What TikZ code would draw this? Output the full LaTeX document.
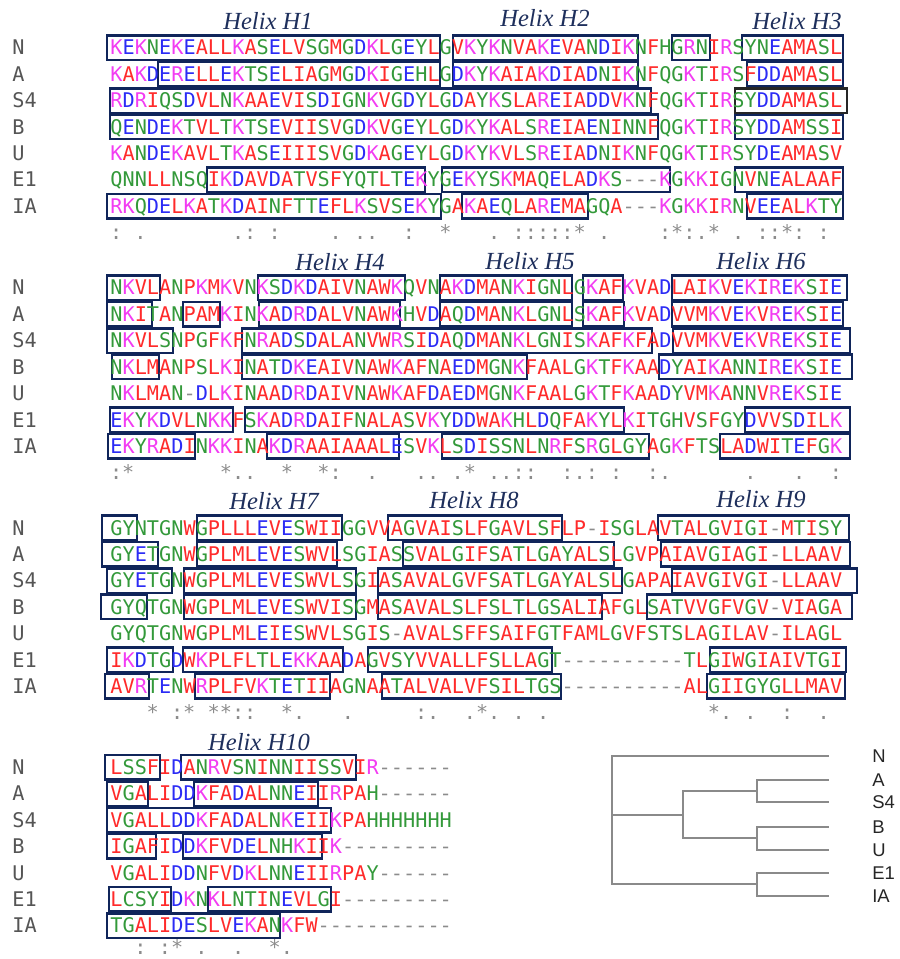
\documentclass[tikz,border=0pt]{standalone}
\usepackage{fontspec}
\usepackage{tikz}
\usepackage{xcolor}
\setmainfont{Liberation Serif}
\newfontfamily\seqfont{DejaVu Sans Mono}
\newfontfamily\treefont{Liberation Sans}
\definecolor{Res_Red}{HTML}{FF2A2A}
\definecolor{Res_Blue}{HTML}{2B2BF5}
\definecolor{Res_Magenta}{HTML}{F23CF2}
\definecolor{Res_Green}{HTML}{33993A}
\definecolor{Gap_Gray}{HTML}{8C8C8C}
\definecolor{Name_Gray}{HTML}{555555}
\definecolor{Box_Navy}{HTML}{10255A}
\definecolor{Label_Navy}{HTML}{1E2F5C}
\definecolor{Tree_Gray}{HTML}{8A8A8A}

% residue colours (small/hydrophobic, acidic, basic, polar)
\colorlet{resA}{Res_Red}\colorlet{resV}{Res_Red}\colorlet{resF}{Res_Red}\colorlet{resP}{Res_Red}
\colorlet{resM}{Res_Red}\colorlet{resI}{Res_Red}\colorlet{resL}{Res_Red}\colorlet{resW}{Res_Red}
\colorlet{resD}{Res_Blue}\colorlet{resE}{Res_Blue}
\colorlet{resR}{Res_Magenta}\colorlet{resK}{Res_Magenta}
\colorlet{resS}{Res_Green}\colorlet{resT}{Res_Green}\colorlet{resY}{Res_Green}\colorlet{resH}{Res_Green}
\colorlet{resC}{Res_Green}\colorlet{resN}{Res_Green}\colorlet{resG}{Res_Green}\colorlet{resQ}{Res_Green}

% one column of the alignment
\newlength\reswd
\setlength\reswd{0.244cm}
\newcommand\seqchar[1]{\makebox[\reswd]{\if-#1\textcolor{Gap_Gray}{-}\else\textcolor{res#1}{#1}\fi}}
\newcommand\seqline[1]{\seqlinei#1\relax}
\def\seqlinei#1{\ifx\relax#1\else\seqchar{#1}\expandafter\seqlinei\fi}

\begin{document}
\begin{tikzpicture}[x=0.02cm, y=-0.02cm,
    resline/.style={anchor=base west, inner sep=0pt, font={\seqfont\fontsize{11.5pt}{14pt}\selectfont}},
    seqname/.style={anchor=base west, inner sep=0pt, text=Name_Gray, font={\seqfont\fontsize{11.5pt}{14pt}\selectfont}},
    consmark/.style={anchor=base, inner sep=0pt, text=Gap_Gray, font={\seqfont\fontsize{11.5pt}{14pt}\selectfont}},
    hxbox/.style={draw=Box_Navy, line width=1.4pt},
    hxboxdark/.style={draw=black!85, line width=1.4pt},
    helixlbl/.style={inner sep=0pt, text=Label_Navy, font={\itshape\fontsize{14pt}{16pt}\selectfont}},
    treeline/.style={draw=Tree_Gray, line width=1.3pt},
    treelbl/.style={anchor=west, inner sep=0pt, text=black!85, font={\treefont\fontsize{10.5pt}{12pt}\selectfont}}]
    \useasboundingbox (0,0) rectangle (899,959);

    % Sequence names, one column per block
    \foreach \b/\y in {1/55,2/295,3/535,4/774.5}
      \foreach \nm [count=\k from 0] in {N,A,S4,B,U,E1,IA}
        \node[seqname] (nm\b\nm) at (12,{\y+26.4*\k}) {\nm};

    % Block 1
    \node[helixlbl] (hH1) at (268,21) {Helix H1};
    \node[helixlbl] (hH2) at (545,18) {Helix H2};
    \node[helixlbl] (hH3) at (797,21) {Helix H3};
    \foreach \k/\xa/\xb in {0/107/440, 0/453/638, 0/672/710, 0/742/843,
                            1/158/440, 1/453/638, 1/747/843,
                            2/110/651,
                            3/110/658, 3/735/843,
                            5/207/425, 5/442/670, 5/735/843,
                            6/107/441, 6/462/588, 6/747/843}
      \draw[hxbox] (\xa,{55+26.4*\k-19.5}) rectangle (\xb,{55+26.4*\k+5});
    \draw[hxboxdark] (735,{55+26.4*2-19.5}) rectangle (847,{55+26.4*2+5});
    \node[resline] (r1N)  at (110,55)    {\seqline{KEKNEKEALLKASELVSGMGDKLGEYLGVKYKNVAKEVANDIKNFHGRNIRSYNEAMASL}};
    \node[resline] (r1A)  at (110,81.4)  {\seqline{KAKDERELLEKTSELIAGMGDKIGEHLGDKYKAIAKDIADNIKNFQGKTIRSFDDAMASL}};
    \node[resline] (r1S4) at (110,107.8) {\seqline{RDRIQSDVLNKAAEVISDIGNKVGDYLGDAYKSLAREIADDVKNFQGKTIRSYDDAMASL}};
    \node[resline] (r1B)  at (110,134.2) {\seqline{QENDEKTVLTKTSEVIISVGDKVGEYLGDKYKALSREIAENINNFQGKTIRSYDDAMSSI}};
    \node[resline] (r1U)  at (110,160.6) {\seqline{KANDEKAVLTKASEIIISVGDKAGEYLGDKYKVLSREIADNIKNFQGKTIRSYDEAMASV}};
    \node[resline] (r1E1) at (110,187)   {\seqline{QNNLLNSQIKDAVDATVSFYQTLTEKYGEKYSKMAQELADKS---KGKKIGNVNEALAAF}};
    \node[resline] (r1IA) at (110,213.4) {\seqline{RKQDELKATKDAINFTTEFLKSVSEKYGAKAEQLAREMAGQA---KGKKIRNVEEALKTY}};
    \foreach \col/\mk in {1/:,3/.,11/.,12/:,14/:,19/.,21/.,22/.,25/:,28/*,32/.,34/:,35/:,36/:,37/:,38/:,
                          39/*,41/.,46/:,47/*,48/:,49/.,50/*,52/.,54/:,55/:,56/*,57/:,59/:}
      \node[consmark] (c1-\col) at ({110+(\col-0.5)*12.2},239.8) {\mk};

    % Block 2
    \node[helixlbl] (hH4) at (340,262) {Helix H4};
    \node[helixlbl] (hH5) at (530,261) {Helix H5};
    \node[helixlbl] (hH6) at (761,261) {Helix H6};
    \foreach \k/\xa/\xb in {0/107/160, 0/258/405, 0/440/572, 0/583/623, 0/672/847,
                            1/107/152, 1/183/220, 1/259/400, 1/440/572, 1/583/624, 1/672/843,
                            2/107/173, 2/242/652, 2/673/850,
                            3/112/159, 3/242/527, 3/659/852,
                            5/110/233, 5/245/624, 5/745/850,
                            6/108/195, 6/267/399, 6/442/649, 6/720/850}
      \draw[hxbox] (\xa,{295+26.4*\k-19.5}) rectangle (\xb,{295+26.4*\k+5});
    \node[resline] (r2N)  at (110,295)   {\seqline{NKVLANPKMKVNKSDKDAIVNAWKQVNAKDMANKIGNLGKAFKVADLAIKVEKIREKSIE}};
    \node[resline] (r2A)  at (110,321.4) {\seqline{NKITANPAMKINKADRDALVNAWKHVDAQDMANKLGNLSKAFKVADVVMKVEKVREKSIE}};
    \node[resline] (r2S4) at (110,347.8) {\seqline{NKVLSNPGFKFNRADSDALANVWRSIDAQDMANKLGNISKAFKFADVVMKVEKVREKSIE}};
    \node[resline] (r2B)  at (110,374.2) {\seqline{NKLMANPSLKINATDKEAIVNAWKAFNAEDMGNKFAALGKTFKAADYAIKANNIREKSIE}};
    \node[resline] (r2U)  at (110,400.6) {\seqline{NKLMAN-DLKINAADRDAIVNAWKAFDAEDMGNKFAALGKTFKAADYVMKANNVREKSIE}};
    \node[resline] (r2E1) at (110,427)   {\seqline{EKYKDVLNKKFSKADRDAIFNALASVKYDDWAKHLDQFAKYLKITGHVSFGYDVVSDILK}};
    \node[resline] (r2IA) at (110,453.4) {\seqline{EKYRADINKKINAKDRAAIAAALESVKLSDISSNLNRFSRGLGYAGKFTSLADWITEFGK}};
    \foreach \col/\mk in {1/:,2/*,10/*,11/.,12/.,15/*,18/*,19/:,22/.,26/.,27/.,29/.,30/*,32/.,33/.,34/:,
                          35/:,38/:,39/.,40/:,42/:,45/:,46/.,53/.,57/.,60/:}
      \node[consmark] (c2-\col) at ({110+(\col-0.5)*12.2},479.8) {\mk};

    % Block 3
    \node[helixlbl] (hH7) at (274,501) {Helix H7};
    \node[helixlbl] (hH8) at (474,500) {Helix H8};
    \node[helixlbl] (hH9) at (761,499) {Helix H9};
    \foreach \k/\xa/\xb in {0/102/137, 0/197/342, 0/388/562, 0/658/849,
                            1/102/158, 1/197/337, 1/403/614, 1/661/850,
                            2/107/172, 2/184/356, 2/378/622, 2/672/857,
                            3/101/147, 3/184/356, 3/378/602, 3/647/852,
                            5/107/173, 5/183/343, 5/368/552, 5/710/846,
                            6/105/149, 6/195/330, 6/382/561, 6/707/845}
      \draw[hxbox] (\xa,{535+26.4*\k-19.5}) rectangle (\xb,{535+26.4*\k+5});
    \node[resline] (r3N)  at (110,535)   {\seqline{GYNTGNWGPLLLEVESWIIGGVVAGVAISLFGAVLSFLP-ISGLAVTALGVIGI-MTISY}};
    \node[resline] (r3A)  at (110,561.4) {\seqline{GYETGNWGPLMLEVESWVLSGIASSVALGIFSATLGAYALSLGVPAIAVGIAGI-LLAAV}};
    \node[resline] (r3S4) at (110,587.8) {\seqline{GYETGNWGPLMLEVESWVLSGIASAVALGVFSATLGAYALSLGAPAIAVGIVGI-LLAAV}};
    \node[resline] (r3B)  at (110,614.2) {\seqline{GYQTGNWGPLMLEVESWVISGMASAVALSLFSLTLGSALIAFGLSATVVGFVGV-VIAGA}};
    \node[resline] (r3U)  at (110,640.6) {\seqline{GYQTGNWGPLMLEIESWVLSGIS-AVALSFFSAIFGTFAMLGVFSTSLAGILAV-ILAGL}};
    \node[resline] (r3E1) at (110,667)   {\seqline{IKDTGDWKPLFLTLEKKAADAGVSYVVALLFSLLAGT----------TLGIWGIAIVTGI}};
    \node[resline] (r3IA) at (110,693.4) {\seqline{AVRTENWRPLFVKTETIIAGNAATALVALVFSILTGS----------ALGIIGYGLLMAV}};
    \foreach \col/\mk in {4/*,6/:,7/*,9/*,10/*,11/:,12/:,15/*,16/.,20/.,26/:,27/.,30/.,31/*,32/.,34/.,
                          36/.,50/*,51/.,53/.,56/:,59/.}
      \node[consmark] (c3-\col) at ({110+(\col-0.5)*12.2},719.8) {\mk};

    % Block 4
    \node[helixlbl] (hH10) at (259,742) {Helix H10};
    \foreach \k/\xa/\xb in {0/105/160, 0/181/356,
                            1/107/148, 1/194/318,
                            2/107/331,
                            3/107/156, 3/183/322,
                            5/109/171, 5/208/331,
                            6/107/280}
      \draw[hxbox] (\xa,{774.5+26.4*\k-19.5}) rectangle (\xb,{774.5+26.4*\k+5});
    \node[resline] (r4N)  at (110,774.5) {\seqline{LSSFIDANRVSNINNIISSVIR------}};
    \node[resline] (r4A)  at (110,800.9) {\seqline{VGALIDDKFADALNNEIIRPAH------}};
    \node[resline] (r4S4) at (110,827.3) {\seqline{VGALLDDKFADALNKEIIKPAHHHHHHH}};
    \node[resline] (r4B)  at (110,853.7) {\seqline{IGAFIDDKFVDELNHKIIK---------}};
    \node[resline] (r4U)  at (110,880.1) {\seqline{VGALIDDNFVDKLNNEIIRPAY------}};
    \node[resline] (r4E1) at (110,906.5) {\seqline{LCSYIDKNKLNTINEVLGI---------}};
    \node[resline] (r4IA) at (110,932.9) {\seqline{TGALIDESLVEKANKFW-----------}};
    \foreach \col/\mk in {3/:,5/:,6/*,8/.,11/.,14/*,15/.}
      \node[consmark] (c4-\col) at ({110+(\col-0.5)*12.2},954.5) {\mk};

    % Tree
    \coordinate (root) at (612,815);
    \coordinate (cl1)  at (683,815);
    \coordinate (cl11) at (757,791);
    \coordinate (cl12) at (757,838);
    \coordinate (cl2)  at (757,884);
    \coordinate (lfN)  at (829,756);
    \coordinate (lfA)  at (829,780);
    \coordinate (lfS4) at (829,802);
    \coordinate (lfB)  at (829,827);
    \coordinate (lfU)  at (829,850);
    \coordinate (lfE1) at (829,873);
    \coordinate (lfIA) at (829,896);
    \draw[treeline] (root) |- (lfN);
    \draw[treeline] (root) -- (cl1);
    \draw[treeline] (root) |- (cl2);
    \draw[treeline] (cl1) |- (cl11);
    \draw[treeline] (cl1) |- (cl12);
    \draw[treeline] (cl11) |- (lfA);
    \draw[treeline] (cl11) |- (lfS4);
    \draw[treeline] (cl12) |- (lfB);
    \draw[treeline] (cl12) |- (lfU);
    \draw[treeline] (cl2) |- (lfE1);
    \draw[treeline] (cl2) |- (lfIA);
    \foreach \nm/\y in {N/756,A/780,S4/802,B/827,U/850,E1/873,IA/896}
      \node[treelbl] (tl\nm) at (872,\y) {\nm};
\end{tikzpicture}
\end{document}
